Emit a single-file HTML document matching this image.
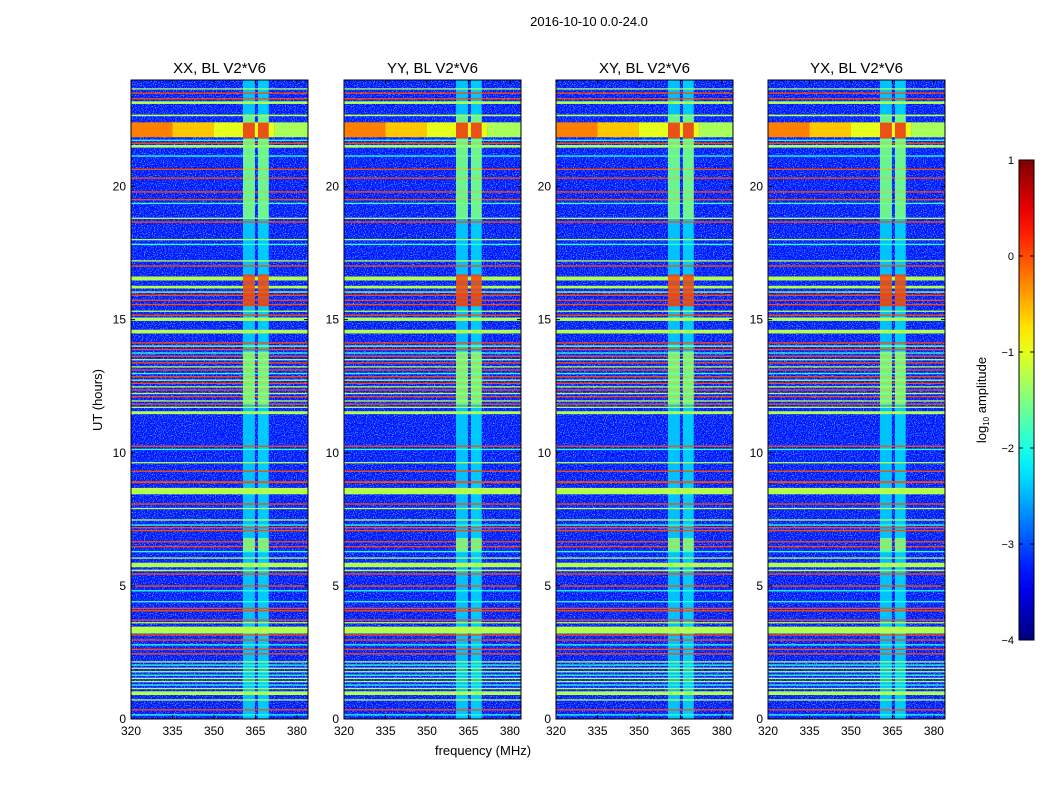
<!DOCTYPE html>
<html><head><meta charset="utf-8">
<style>
body{margin:0;background:#fff;font-family:"Liberation Sans",sans-serif;}
svg text{font-family:"Liberation Sans",sans-serif;fill:#000;}
</style></head>
<body>
<svg id="fig" width="1050" height="800" xmlns="http://www.w3.org/2000/svg">
<defs>
<filter id="speckle" x="0" y="0" width="100%" height="100%">
<feTurbulence type="fractalNoise" baseFrequency="0.9" numOctaves="1" seed="3" result="n"/>
<feColorMatrix in="n" type="matrix" values="0 0 0 0 0.1  0 0 0 0 0.65  0 0 0 0 1  3.2 0 0 0 -1.55"/>
</filter>
</defs>
<rect width="1050" height="800" fill="#fff"/>
<text x="589" y="26" font-size="13" text-anchor="middle">2016-10-10 0.0-24.0</text>
<text x="483" y="755" font-size="13" text-anchor="middle">frequency (MHz)</text>
<text x="102" y="400" font-size="13" text-anchor="middle" transform="rotate(-90 102 400)">UT (hours)</text>
<g id="panels"></g>
<g id="cbar"></g>
</svg>
<script>
// ---- data ----
const panelTitles = ["XX, BL V2*V6","YY, BL V2*V6","XY, BL V2*V6","YX, BL V2*V6"];
const xTicks = [320,335,350,365,380];
const yTicks = [0,5,10,15,20];
const cbarTicks = [1,0,-1,-2,-3,-4];
const backgroundValue = -3.3;
// vertical RFI bands (MHz)
const bandStart = [360.5, 365.9];
const bandEnd   = [364.8, 369.8];
const bandValue = [-2.35, -2.3];
// time-limited band brightenings
const bandSegStart = [18.8, 15.5, 11.8, 6.3, 21.8];
const bandSegEnd   = [22.7, 16.7, 13.8, 6.8, 22.4];
const bandSegValue = [-1.45, 0.1, -1.4, -1.4, 0.2];
// horizontal lines: start hour, end hour, value
const rowStart = [23.64,23.48,23.27,23.10,22.64,21.71,21.60,21.46,21.12,20.62,20.29,19.77,19.48,19.34,18.78,18.64,17.98,17.80,17.18,16.99,16.47,16.17,16.01,15.89,15.70,15.54,15.29,15.14,14.95,14.48,
 14.10,13.98,13.85,13.72,13.60,13.47,13.35,13.20,13.08,12.95,12.83,12.70,12.58,12.45,12.33,12.20,12.08,11.92,11.80,11.68,11.45,
 10.22,10.10,9.60,9.28,8.86,8.44,8.05,7.88,7.45,7.26,7.16,7.05,6.63,6.45,6.26,6.02,5.70,5.55,5.42,4.97,4.79,4.38,4.13,4.04,3.69,3.59,3.21,3.13,2.94,2.76,2.59,2.42,
 2.12,2.00,1.88,1.75,1.62,1.50,1.38,1.25,1.12,0.90,0.69,0.32,0.13];
const rowEnd = [23.69,23.53,23.32,23.20,22.70,21.76,21.65,21.56,21.17,20.67,20.34,19.82,19.53,19.39,18.83,18.69,18.03,17.85,17.23,17.04,16.62,16.27,16.06,15.94,15.75,15.59,15.34,15.19,15.08,14.62,
 14.15,14.03,13.90,13.77,13.65,13.52,13.40,13.25,13.13,13.00,12.88,12.75,12.63,12.50,12.38,12.25,12.13,11.97,11.85,11.73,11.56,
 10.27,10.15,9.65,9.33,8.93,8.68,8.10,7.93,7.50,7.31,7.21,7.10,6.68,6.50,6.31,6.07,5.87,5.61,5.47,5.02,4.84,4.43,4.18,4.09,3.74,3.64,3.47,3.18,2.99,2.81,2.64,2.47,
 2.17,2.05,1.93,1.80,1.67,1.55,1.43,1.30,1.17,1.04,0.74,0.37,0.18];
const rowValue = [-1.3,0.0,0.0,-1.25,-1.2,-1.9,0.0,-1.25,-1.9,0.0,0.0,0.0,0.0,-1.9,-1.25,0.0,-1.25,-1.9,-1.25,0.0,-1.25,-1.25,-1.25,0.0,0.0,0.0,-1.25,0.0,-1.25,-1.25,
 0.0,-1.25,0.0,-1.9,0.0,-1.25,0.0,-1.25,0.0,-1.9,0.0,-1.25,0.0,-1.25,0.0,-1.25,0.0,-1.25,0.0,-1.25,-1.25,
 0.0,-1.9,-1.25,0.0,0.0,-1.25,0.0,-1.25,-1.25,-1.9,0.0,0.0,0.0,0.0,-1.9,-1.25,-1.25,-1.25,0.0,0.0,-1.9,-1.9,0.0,0.0,0.0,-1.25,-1.25,0.0,0.0,-1.9,0.0,0.0,
 -1.25,-1.9,-1.25,-1.25,-1.9,-1.25,-1.25,-1.9,-1.25,-1.25,-1.25,0.0,-1.9];
// broad storm region split into frequency segments
const broadStart = [21.85];
const broadEnd = [22.41];
const broadSegFreq = [320, 335, 350, 372];
const broadSegValue = [-0.25, -0.6, -1.0, -1.3];

// ---- helpers ----
const NS="http://www.w3.org/2000/svg";
const panelLeft=[131,344,556,768], PW=177, PT=80, PH=639;
const xMin=320, xMax=384, yMin=0, yMax=24;
function jet(v){
  let t=(v+4)/5; t=Math.max(0,Math.min(1,t));
  const f=x=>Math.max(0,Math.min(1,x));
  const r=f(1.5-Math.abs(4*t-3)), g=f(1.5-Math.abs(4*t-2)), b=f(1.5-Math.abs(4*t-1));
  return `rgb(${Math.round(r*255)},${Math.round(g*255)},${Math.round(b*255)})`;
}
function mk(tag,attrs,parent){const e=document.createElementNS(NS,tag);for(const k in attrs)e.setAttribute(k,attrs[k]);parent.appendChild(e);return e;}
const root=document.getElementById('panels');

panelLeft.forEach((L,pi)=>{
  const xs=v=>L+(v-xMin)/(xMax-xMin)*PW;
  const ys=h=>PT+PH-(h-yMin)/(yMax-yMin)*PH;
  const g=mk('g',{},root);
  
  
  const bg=mk('rect',{x:L,y:PT,width:PW,height:PH,fill:jet(backgroundValue)},g);
  
  
  const sp=mk('rect',{x:L,y:PT,width:PW,height:PH,fill:'#000',filter:'url(#speckle)'},g);
  
  
  bandStart.forEach((s,i)=>{
    const r=mk('rect',{x:xs(s),y:PT,width:xs(bandEnd[i])-xs(s),height:PH,fill:jet(bandValue[i]),opacity:0.9},g);
    
    
  });
  broadStart.forEach((s,i)=>{
    const y1=ys(broadEnd[i]),y2=ys(s);
    broadSegFreq.forEach((f,k)=>{
      const f2=k+1<broadSegFreq.length?broadSegFreq[k+1]:xMax;
      const a=mk('rect',{x:xs(f),y:y1,width:xs(f2)-xs(f),height:y2-y1,fill:jet(broadSegValue[k])},g);
      
      
    });
  });
  rowStart.forEach((s,i)=>{
    const y1=ys(rowEnd[i]),y2=ys(s);
    const r=mk('rect',{x:L,y:y1,width:PW,height:Math.max(1,y2-y1),fill:jet(rowValue[i])},g);
    
    
  });
  bandSegStart.forEach((s,i)=>{
    bandStart.forEach((bs,j)=>{
      const y1=ys(bandSegEnd[i]),y2=ys(s);
      const r=mk('rect',{x:xs(bs),y:y1,width:xs(bandEnd[j])-xs(bs),height:y2-y1,fill:jet(bandSegValue[i]),opacity:0.8},g);
      
      
    });
  });
  const fr=mk('rect',{x:L,y:PT,width:PW,height:PH,fill:'none',stroke:'#000','stroke-width':1},g);
  
  
  const t=mk('text',{x:L+PW/2,y:PT-7,'font-size':15,'text-anchor':'middle'},g);
  t.textContent=panelTitles[pi];
  
  
  xTicks.forEach(v=>{
    mk('line',{x1:xs(v),x2:xs(v),y1:PT+PH,y2:PT+PH-4,stroke:'#000'},g);
    mk('line',{x1:xs(v),x2:xs(v),y1:PT,y2:PT+4,stroke:'#000'},g);
    const tx=mk('text',{x:xs(v),y:PT+PH+16,'font-size':12,'text-anchor':'middle'},g);
    tx.textContent=v;
    
    
  });
  yTicks.forEach(v=>{
    mk('line',{x1:L,x2:L+4,y1:ys(v),y2:ys(v),stroke:'#000'},g);
    mk('line',{x1:L+PW,x2:L+PW-4,y1:ys(v),y2:ys(v),stroke:'#000'},g);
    const tx=mk('text',{x:L-5,y:ys(v)+4,'font-size':12,'text-anchor':'end'},g);
    tx.textContent=v;
    
    
  });
});

// colorbar
const cb=document.getElementById('cbar');
const CX=1019,CW=15,CT=160,CB=640;
const cy=v=>CB-(v+4)/5*(CB-CT);
const defs=mk('defs',{},cb);
const grad=mk('linearGradient',{id:'jetg',x1:0,y1:1,x2:0,y2:0},defs);
for(let k=0;k<=20;k++){mk('stop',{offset:k/20,'stop-color':jet(-4+k*5/20)},grad);}
const cr=mk('rect',{x:CX,y:CT,width:CW,height:CB-CT,fill:'url(#jetg)',stroke:'#000','stroke-width':1},cb);


cbarTicks.forEach(v=>{
  mk('line',{x1:CX,x2:CX+4,y1:cy(v),y2:cy(v),stroke:'#000'},cb);
  mk('line',{x1:CX+CW,x2:CX+CW-4,y1:cy(v),y2:cy(v),stroke:'#000'},cb);
  const tx=mk('text',{x:CX-5,y:cy(v)+4,'font-size':11,'text-anchor':'end'},cb);
  tx.textContent=(v<0?'\u2212'+(-v):v);
  
  
});
const lab=mk('text',{x:986,y:400,'font-size':13,'text-anchor':'middle',transform:'rotate(-90 986 400)'},cb);
lab.innerHTML='log<tspan font-size="8" dy="3">10</tspan><tspan dy="-3"> amplitude</tspan>';


</script>
</body></html>
